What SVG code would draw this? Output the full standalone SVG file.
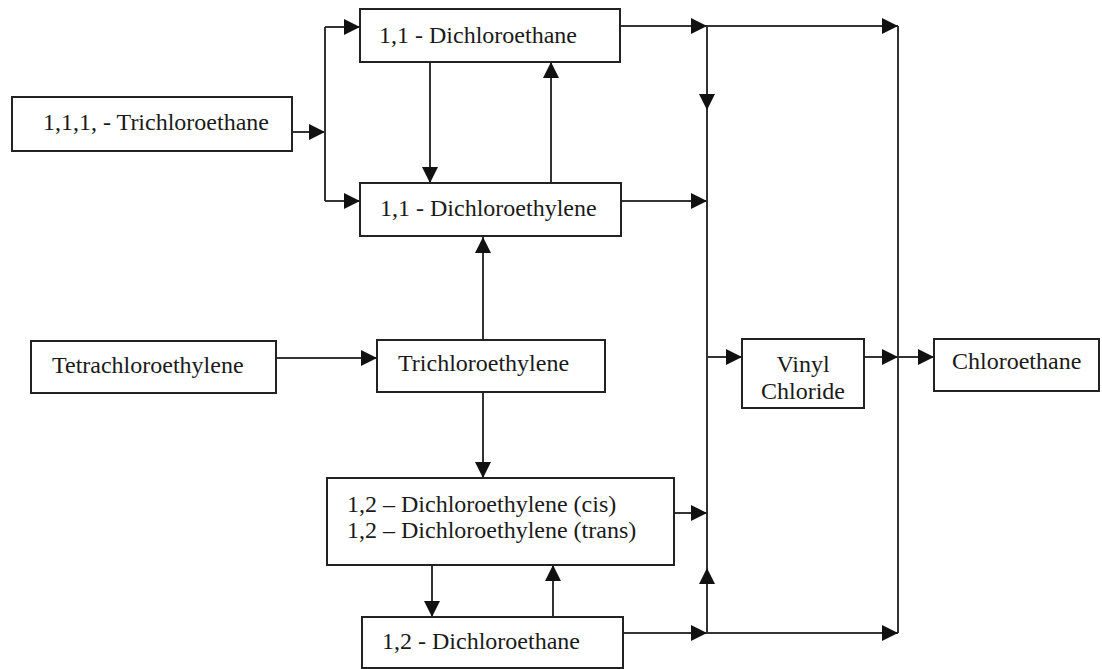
<svg xmlns="http://www.w3.org/2000/svg" width="1102" height="669" viewBox="0 0 1102 669">
<style>
.box{fill:#fff;stroke:#222;stroke-width:2}
.lbl{font-family:"Liberation Serif","Times New Roman",serif;font-size:24px;fill:#1a1a1a}
.c{text-anchor:middle}
.ln{fill:none;stroke:#333;stroke-width:2}
.ar{fill:none;stroke:#333;stroke-width:2;marker-end:url(#ah)}
</style>
<defs>
<marker id="ah" markerUnits="userSpaceOnUse" markerWidth="17" markerHeight="17" refX="16" refY="8" orient="auto">
<path d="M0,0 L16,8 L0,16 Z" fill="#111"/>
</marker>
</defs>
<rect width="1102" height="669" fill="#fff"/>
<g id="connectors">
<path class="ar" d="M292,132 H325"/>
<path class="ln" d="M325,27 V201"/>
<path class="ar" d="M325,27 H360"/>
<path class="ar" d="M325,201 H360"/>
<path class="ar" d="M620,26 H707"/>
<path class="ar" d="M707,26 H898"/>
<path class="ar" d="M707,26 V110"/>
<path class="ln" d="M707,110 V633"/>
<path class="ln" d="M898,26 V633"/>
<path class="ar" d="M430,62 V183"/>
<path class="ar" d="M551,183 V62"/>
<path class="ar" d="M621,201 H707"/>
<path class="ar" d="M276,358 H377"/>
<path class="ar" d="M483,340 V237"/>
<path class="ar" d="M483,392 V478"/>
<path class="ar" d="M707,357 H742"/>
<path class="ar" d="M864,357 H898"/>
<path class="ar" d="M898,357 H934"/>
<path class="ar" d="M674,513 H707"/>
<path class="ar" d="M432,565 V617"/>
<path class="ar" d="M553,617 V565"/>
<path class="ar" d="M623,633 H707"/>
<path class="ar" d="M707,633 H898"/>
<path class="ar" d="M707,633 V568"/>
</g>
<g id="n-111tca">
<rect class="box" x="12" y="97" width="280" height="54"/>
<text class="lbl" x="43" y="130">1,1,1, - Trichloroethane</text>
</g>
<g id="n-11dca">
<rect class="box" x="360" y="9" width="260" height="53"/>
<text class="lbl" x="379" y="43">1,1 - Dichloroethane</text>
</g>
<g id="n-11dce">
<rect class="box" x="360" y="183" width="261" height="53"/>
<text class="lbl" x="380" y="216">1,1 - Dichloroethylene</text>
</g>
<g id="n-pce">
<rect class="box" x="31" y="341" width="245" height="52"/>
<text class="lbl" x="52" y="373">Tetrachloroethylene</text>
</g>
<g id="n-tce">
<rect class="box" x="377" y="340" width="228" height="52"/>
<text class="lbl" x="398" y="371">Trichloroethylene</text>
</g>
<g id="n-vc">
<rect class="box" x="742" y="339" width="122" height="69"/>
<text class="lbl c" x="803" y="372">Vinyl</text>
<text class="lbl c" x="803" y="399">Chloride</text>
</g>
<g id="n-ca">
<rect class="box" x="934" y="339" width="165" height="52"/>
<text class="lbl" x="952" y="369">Chloroethane</text>
</g>
<g id="n-12dce">
<rect class="box" x="327" y="478" width="347" height="87"/>
<text class="lbl" x="347" y="512">1,2 – Dichloroethylene (cis)</text>
<text class="lbl" x="347" y="538">1,2 – Dichloroethylene (trans)</text>
</g>
<g id="n-12dca">
<rect class="box" x="362" y="617" width="261" height="51"/>
<text class="lbl" x="382" y="649">1,2 - Dichloroethane</text>
</g>
</svg>
